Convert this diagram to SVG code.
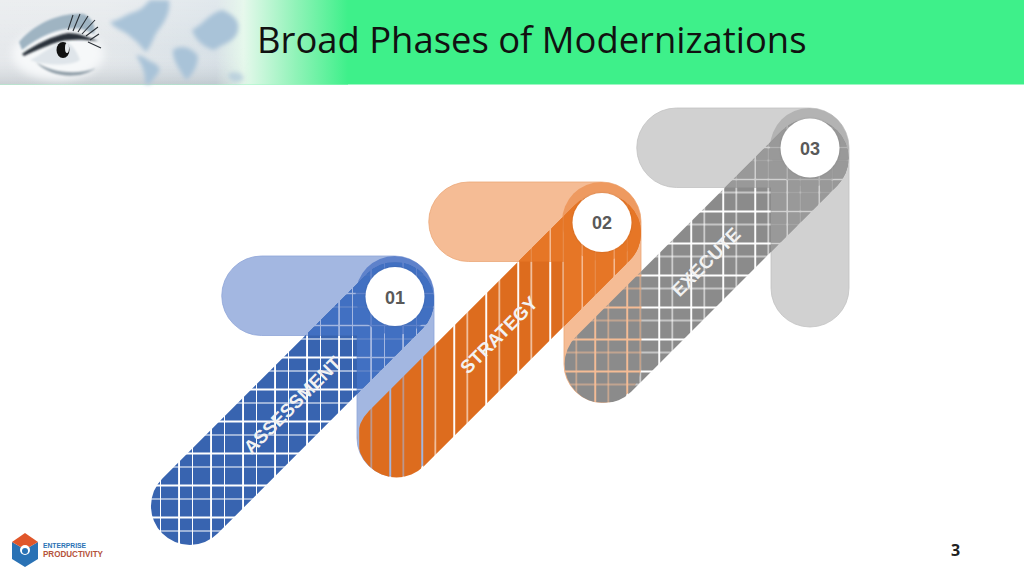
<svg xmlns="http://www.w3.org/2000/svg" width="1024" height="576" viewBox="0 0 1024 576">
<style>
text{font-family:"Liberation Sans",Arial,sans-serif}
.title{font-family:"Open Sans","Noto Sans",sans-serif;font-size:36.4px;fill:#111}
.num{font-size:18px;font-weight:700;fill:#595959;text-anchor:middle}
.lab{font-size:18.7px;font-weight:700;fill:#f2f2f2;text-anchor:middle;dominant-baseline:central}
.disc{fill:#fff}
</style>
<defs>
<linearGradient id="fade" x1="0" x2="1" y1="0" y2="0">
<stop offset="0" stop-color="#e6e9ec"/><stop offset=".3" stop-color="#e4e8eb"/><stop offset=".62" stop-color="#d8e1e7"/><stop offset=".7" stop-color="#e6f8ec"/><stop offset=".85" stop-color="#90f3b8"/><stop offset="1" stop-color="#3ef08a"/>
</linearGradient>
<linearGradient id="shade" x1="0" x2="0" y1="0" y2="1">
<stop offset="0" stop-color="#fff" stop-opacity=".25"/><stop offset=".6" stop-color="#fff" stop-opacity="0"/><stop offset="1" stop-color="#8a949c" stop-opacity=".3"/>
</linearGradient>
<linearGradient id="shadeMask" x1="0" x2="1" y1="0" y2="0">
<stop offset="0" stop-color="#fff"/><stop offset=".62" stop-color="#fff"/><stop offset=".72" stop-color="#000"/>
</linearGradient>
<mask id="leftOnly"><rect width="348" height="85" fill="url(#shadeMask)"/></mask>
<filter id="b6" x="-30%" y="-30%" width="160%" height="160%"><feGaussianBlur stdDeviation="2"/></filter>
<filter id="b4" x="-30%" y="-30%" width="160%" height="160%"><feGaussianBlur stdDeviation="4"/></filter>
<filter id="b1" x="-30%" y="-30%" width="160%" height="160%"><feGaussianBlur stdDeviation=".8"/></filter>
<filter id="sh" x="-30%" y="-30%" width="160%" height="160%"><feDropShadow dx="0" dy="0" stdDeviation="1" flood-color="#000" flood-opacity=".15"/></filter>
<pattern id="gBlue" patternUnits="userSpaceOnUse" x="179" y="453.500" width="32" height="32">
<path d="M1 1h12v12H1zM14 1h17.100v12H14zM1 14h12v17.100H1zM14 14h17.100v17.100H14z" fill="#3864b0"/></pattern>
<pattern id="gBlue2" patternUnits="userSpaceOnUse" x="179" y="453.500" width="32" height="32">
<path d="M1 1h12v12H1zM14 1h17.100v12H14zM1 14h12v17.100H1zM14 14h17.100v17.100H14z" fill="#4170c2"/></pattern>
<pattern id="gOr" patternUnits="userSpaceOnUse" x="390.200" y="0" width="32" height="32">
<path d="M1 0h11.600v32H1zM13.600 0h17.500v32H13.600z" fill="#dd6c1e"/></pattern>
<pattern id="gOr2" patternUnits="userSpaceOnUse" x="390.200" y="0" width="32" height="32">
<path d="M1 0h11.600v32H1zM13.600 0h17.500v32H13.600z" fill="#e67626"/></pattern>
<pattern id="gGr" patternUnits="userSpaceOnUse" x="595.200" y="339.500" width="32" height="32">
<path d="M1 1h11.600v11.600H1zM13.600 1h17.500v11.600H13.600zM1 13.600h11.600v17.500H1zM13.600 13.600h17.500v17.500H13.600z" fill="#8b8b8b"/></pattern>
<pattern id="gGr2" patternUnits="userSpaceOnUse" x="595.200" y="339.500" width="32" height="32">
<path d="M1 1h11.600v11.600H1zM13.600 1h17.500v11.600H13.600zM1 13.600h11.600v17.500H1zM13.600 13.600h17.500v17.500H13.600z" fill="#999"/></pattern>
<path id="r1" d="M261.500 256H394.500A39.500 39.500 0 0 1 434 295.500V438A38.500 38.500 0 0 1 357 438V335.500H261.500A39.750 39.750 0 0 1 261.500 256Z"/>
<path id="r2" d="M468.500 182H601.500A39.500 39.500 0 0 1 641 221.500V364A38.500 38.500 0 0 1 564 364V261.500H468.500A39.750 39.750 0 0 1 468.500 182Z"/>
<path id="r3" d="M676.500 108H809.500A39.500 39.500 0 0 1 849 147.500V288A39 39 0 0 1 771 288V187.500H676.500A39.750 39.750 0 0 1 676.500 108Z"/>
<clipPath id="c1"><use href="#r1"/></clipPath>
<clipPath id="c2"><use href="#r2"/></clipPath>
<clipPath id="c3"><use href="#r3"/></clipPath>
</defs>

<g id="header">
<rect width="1024" height="84.500" fill="#3ef08a"/>
<rect width="348" height="84.500" fill="url(#fade)"/>
<rect width="348" height="84.500" fill="url(#shade)" mask="url(#leftOnly)"/>
<g id="map" fill="#a9c3d8" filter="url(#b6)">
<path d="M110 22C120 20 126 14 134 12C142 10 146 4 150 0H169C171 10 166 20 160 28C154 34 153 44 146 52C142 48 138 42 132 38C124 30 116 30 110 22Z"/>
<path d="M136 56C142 54 146 60 152 62C160 66 162 70 156 76L150 84H145C146 74 142 64 136 56Z"/>
<path d="M192 30C204 24 208 14 222 10C232 14 240 20 238 30C236 42 222 44 214 50C206 48 196 42 192 30Z"/>
<path d="M173 50C182 44 192 48 198 56C198 66 192 76 186 80C180 70 172 60 173 50Z"/>
<path d="M228 74C234 70 242 72 244 78C240 84 230 84 228 74Z" opacity=".6"/>
</g>
<g id="eye">
<ellipse cx="58" cy="54" rx="46" ry="26" fill="#f6f8f9" filter="url(#b4)"/>
<path d="M19 42C34 24 60 12 84 14C92 18 96 26 94 34C76 22 48 30 22 50Z" fill="#9fb4c2" filter="url(#b1)"/>
<path d="M22 54C36 44 52 36 68 33C80 33 90 38 98 41C84 40 68 38 52 44C42 48 32 52 24 56Z" fill="#29323a" filter="url(#b1)"/>
<path d="M30 60C40 56 50 46 62 42C72 42 76 50 80 60C72 66 46 66 30 60Z" fill="#dfe5ea" filter="url(#b1)"/>
<path d="M36 62C50 72 76 76 96 68C80 80 50 78 36 62Z" fill="#8f9da7" filter="url(#b1)"/>
<ellipse cx="63" cy="50" rx="6.500" ry="8" fill="#111"/>
<ellipse cx="67" cy="48" rx="2" ry="5" fill="#e8ecef"/>
<path d="M68 30L73 15M73 31L80 14M78 32L88 16M82 34L95 20M86 36L98 27M90 40L99 34M88 42L101 48" stroke="#2a3036" stroke-width="1.100" fill="none"/>
</g>
<text class="title" x="257" y="53">Broad Phases of Modernizations</text>
</g>

<g id="connectors"></g>

<g id="phase-01">
<use href="#r1" fill="#a3b7e1" stroke="#8ea5d8" stroke-width=".8"/>
<g clip-path="url(#c1)"><circle cx="395" cy="295.500" r="39.500" fill="#5e82cb"/></g>
<path d="M162.400 478.400L367.400 273.400A39 39 0 0 1 422.600 328.600L217.600 533.600A39 39 0 0 1 162.400 478.400Z" fill="url(#gBlue)"/>
<path d="M162.400 478.400L367.400 273.400A39 39 0 0 1 422.600 328.600L217.600 533.600A39 39 0 0 1 162.400 478.400Z" fill="url(#gBlue2)" clip-path="url(#c1)"/>
<circle class="disc" cx="395" cy="296.500" r="29.500" filter="url(#sh)"/>
<text class="num" x="395" y="303.500">01</text>
<text class="lab" transform="translate(292.500 405) rotate(-45)">ASSESSMENT</text>
</g>

<g id="phase-02">
<use href="#r2" fill="#f5bc95" stroke="#eba777" stroke-width=".8"/>
<g clip-path="url(#c2)"><circle cx="601.500" cy="221.500" r="39.500" fill="#ee9a60"/></g>
<path d="M368.900 410.900L574.400 205.400A39 39 0 0 1 629.600 260.600L424.100 466.100A39 39 0 0 1 368.900 410.900Z" fill="url(#gOr)"/>
<path d="M368.900 410.900L574.400 205.400A39 39 0 0 1 629.600 260.600L424.100 466.100A39 39 0 0 1 368.900 410.900Z" fill="url(#gOr2)" clip-path="url(#c2)"/>
<circle class="disc" cx="602" cy="222.500" r="29.500" filter="url(#sh)"/>
<text class="num" x="602" y="229">02</text>
<text class="lab" transform="translate(499 335) rotate(-45)">STRATEGY</text>
</g>

<g id="phase-03">
<use href="#r3" fill="#d1d1d1" stroke="#c2c2c2" stroke-width=".8"/>
<g clip-path="url(#c3)"><circle cx="809.500" cy="147.500" r="39.500" fill="#b3b3b3"/></g>
<path d="M576 336.500L782 130.500A39 39 0 0 1 837.200 185.700L631.200 391.700A39 39 0 0 1 576 336.500Z" fill="url(#gGr)"/>
<path d="M576 336.500L782 130.500A39 39 0 0 1 837.200 185.700L631.200 391.700A39 39 0 0 1 576 336.500Z" fill="url(#gGr2)" clip-path="url(#c3)"/>
<circle class="disc" cx="810" cy="148" r="29.500" filter="url(#sh)"/>
<text class="num" x="810" y="154.500">03</text>
<text class="lab" transform="translate(706 262) rotate(-45)">EXECUTE</text>
</g>

<g id="logo">
<path d="M12 542L25 549.500L38 542V559L25 567L12 559Z" fill="#2a72b5"/>
<path d="M12 542L25 533L38 542L25 549.500Z" fill="#e0562a"/>
<circle cx="25" cy="550" r="5" fill="#fff"/>
<circle cx="25" cy="551" r="3" fill="#2a72b5"/>
<text x="43" y="548" font-size="7.500" font-weight="700" fill="#2a72b5" textLength="43" lengthAdjust="spacingAndGlyphs">ENTERPRISE</text>
<text x="43" y="557" font-size="9" font-weight="700" fill="#b5533a" textLength="60" lengthAdjust="spacingAndGlyphs">PRODUCTIVITY</text>
</g>

<text id="page" x="955.500" y="556" font-size="16" font-weight="700" fill="#222" text-anchor="middle" style="font-family:'Open Sans',sans-serif">3</text>
</svg>
